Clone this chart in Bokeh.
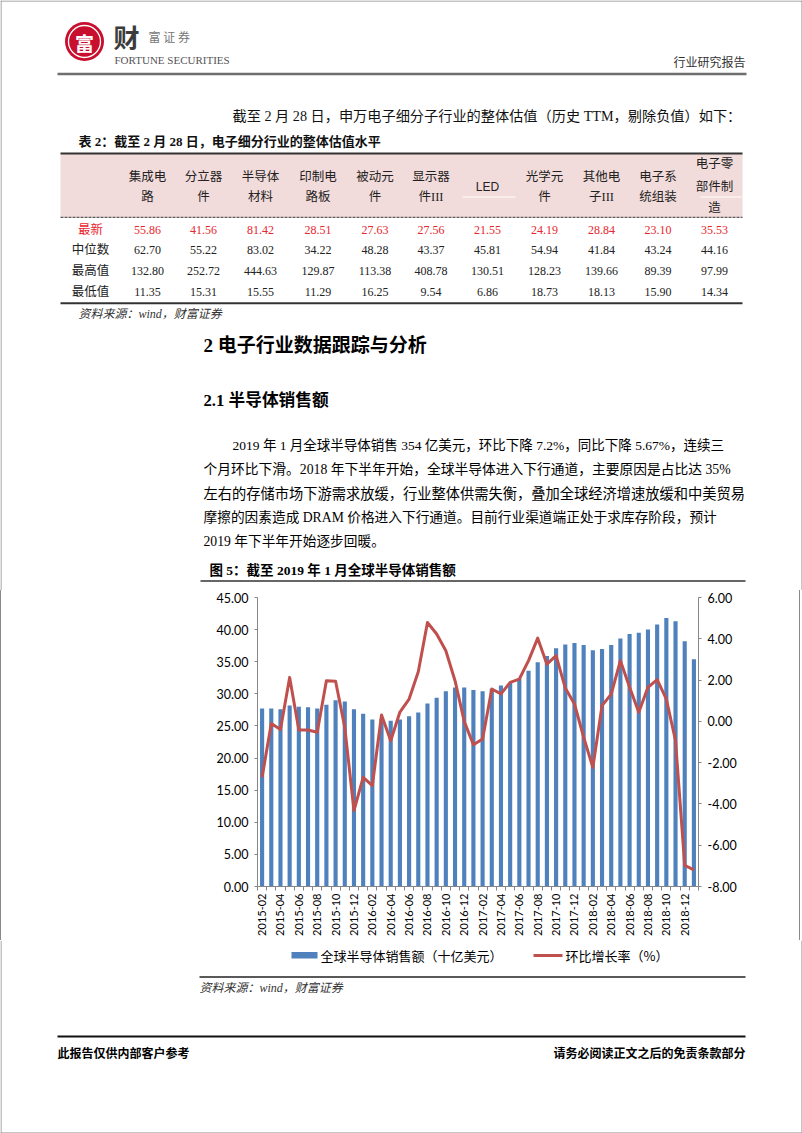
import math
from bokeh.plotting import figure
from bokeh.models import (Range1d, LinearAxis, FixedTicker, NumeralTickFormatter,
                          CustomJSTickFormatter)
from bokeh.core.properties import value
from bokeh.embed import file_html
from bokeh.resources import INLINE

# ---------------- data ----------------
months = ["2015-02", "2015-03", "2015-04", "2015-05", "2015-06", "2015-07", "2015-08", "2015-09",
          "2015-10", "2015-11", "2015-12", "2016-01", "2016-02", "2016-03", "2016-04", "2016-05",
          "2016-06", "2016-07", "2016-08", "2016-09", "2016-10", "2016-11", "2016-12", "2017-01",
          "2017-02", "2017-03", "2017-04", "2017-05", "2017-06", "2017-07", "2017-08", "2017-09",
          "2017-10", "2017-11", "2017-12", "2018-01", "2018-02", "2018-03", "2018-04", "2018-05",
          "2018-06", "2018-07", "2018-08", "2018-09", "2018-10", "2018-11", "2018-12", "2019-01"]
sales = [27.7, 27.7, 27.6, 28.2, 28.0, 27.9, 27.7, 28.3, 29.0, 28.8, 27.6, 26.9,
         26.0, 26.1, 25.8, 26.0, 26.5, 27.1, 28.5, 29.4, 30.4, 31.0, 31.0, 30.6,
         30.4, 30.8, 31.3, 31.7, 32.4, 33.6, 34.9, 35.9, 37.1, 37.7, 37.9, 37.6,
         36.8, 37.0, 37.6, 38.6, 39.3, 39.5, 40.0, 40.8, 41.8, 41.3, 38.2, 35.4]
mom = [-2.71, -0.10, -0.40, 2.13, -0.42, -0.42, -0.53, 1.97, 1.94, -0.29, -4.32, -2.71,
       -3.11, 0.31, -0.94, 0.45, 1.08, 2.40, 4.79, 4.23, 3.42, 1.97, 0.00, -1.13,
       -0.85, 1.57, 1.33, 1.89, 2.05, 2.94, 4.03, 2.77, 3.18, 1.61, 0.84, -0.77,
       -2.23, 0.76, 1.32, 2.94, 1.65, 0.44, 1.65, 2.02, 1.08, -0.94, -6.98, -7.19]
tick_labels = months[::2]
series_names = ["全球半导体销售额（十亿美元）", "环比增长率（%）"]

table_headers = [["集成电", "路"], ["分立器", "件"], ["半导体", "材料"], ["印制电", "路板"],
                 ["被动元", "件"], ["显示器", "件III"], ["LED"], ["光学元", "件"],
                 ["其他电", "子III"], ["电子系", "统组装"], ["电子零", "部件制", "造"]]
row_names = ["最新", "中位数", "最高值", "最低值"]
latest = [55.86, 41.56, 81.42, 28.51, 27.63, 27.56, 21.55, 24.19, 28.84, 23.10, 35.53]
median = [62.70, 55.22, 83.02, 34.22, 48.28, 43.37, 45.81, 54.94, 41.84, 43.24, 44.16]
highest = [132.80, 252.72, 444.63, 129.87, 113.38, 408.78, 130.51, 128.23, 139.66, 89.39, 97.99]
lowest = [11.35, 15.31, 15.55, 11.29, 16.25, 9.54, 6.86, 18.73, 18.13, 15.90, 14.34]

body_lines = [
    "2019 年 1 月全球半导体销售 354 亿美元，环比下降 7.2%，同比下降 5.67%，连续三",
    "个月环比下滑。2018 年下半年开始，全球半导体进入下行通道，主要原因是占比达 35%",
    "左右的存储市场下游需求放缓，行业整体供需失衡，叠加全球经济增速放缓和中美贸易",
    "摩擦的因素造成 DRAM 价格进入下行通道。目前行业渠道端正处于求库存阶段，预计",
    "2019 年下半年开始逐步回暖。",
]

# ---------------- styles ----------------
CJK = "Noto Sans CJK SC"
SERIF = "Liberation Serif, Noto Sans CJK SC"
W = 802
RED = "#e8262e"
BLUE = "#4f81bd"
LINE_RED = "#c0504d"
BORDER = "#8a8a8a"


def txt(p, x, y, s, size, font=SERIF, color="#111111", align="left", style="normal"):
    p.text(x=[x], y=[y], text=[s], text_font=value(font), text_font_size=value(f"{size}px"),
           text_color=color, text_align=align, text_baseline="middle", text_font_style=style)


def hline(p, x0, x1, y, w, color, dash="solid"):
    p.line(x=[x0, x1], y=[y, y], line_width=w, line_color=color, line_dash=dash)


def page_fig(y0, y1):
    f = figure(width=W, height=y1 - y0, x_range=Range1d(0, W), y_range=Range1d(y1, y0),
               x_axis_type=None, y_axis_type=None, toolbar_location=None, output_backend="svg",
               min_border=0, outline_line_color=None, title=None)
    f.line(x=[0.5, 0.5], y=[y0, y1], line_color=BORDER, line_width=1)
    f.line(x=[W - 0.5, W - 0.5], y=[y0, y1], line_color=BORDER, line_width=1)
    return f


# ---------------- figure A: header, table, text ----------------
pa = page_fig(0, 590)
hline(pa, 0, W, 0.5, 1, BORDER)

# logo
pa.scatter(x=[84], y=[41], size=39, marker="circle", fill_color="#c8102e", line_color=None)
pa.scatter(x=[84], y=[41], size=32, marker="circle", fill_color=None, line_color="white", line_width=1.3)
txt(pa, 84, 42, "富", 19, font=CJK, color="white", align="center", style="bold")
txt(pa, 113, 36, "财", 26, font=CJK, color="#3c3c3c", style="bold")
txt(pa, 148, 36, "富 证 券", 12, font=CJK, color="#777777")
txt(pa, 114, 59, "FORTUNE SECURITIES", 11, font="Liberation Serif", color="#555555")
txt(pa, 745, 61, "行业研究报告", 12, font=CJK, color="#333333", align="right")
hline(pa, 57, 746, 73.5, 2.5, "#6e6e6e")

txt(pa, 232, 115, "截至 2 月 28 日，申万电子细分子行业的整体估值（历史 TTM，剔除负值）如下：", 14.2)

# table
txt(pa, 78, 141, "表 2：截至 2 月 28 日，电子细分行业的整体估值水平", 13, style="bold")
pa.quad(left=[60], right=[742], top=[153], bottom=[216.5], fill_color="#f2dcdb", line_color=None)
hline(pa, 462, 515, 196.5, 1, "white")
hline(pa, 700, 741, 196.5, 1, "white")
hline(pa, 60, 742, 153, 2, "#333333")
hline(pa, 60, 742, 216.8, 1, "#333333", dash="3 1")
hline(pa, 60, 742, 302.7, 2, "#333333")

col_x = [147, 203, 260, 317.5, 374.5, 430.5, 487, 544, 601, 657.5, 714]
line_y = {1: [186], 2: [176.5, 196.5], 3: [163, 186, 207]}
for cx, lines in zip(col_x, table_headers):
    for s, yy in zip(lines, line_y[len(lines)]):
        if s == "LED":
            txt(pa, cx, yy, s, 12, font="Liberation Sans", color="#222222", align="center")
        else:
            txt(pa, cx, yy, s, 12.5, color="#222222", align="center")

row_y = [229, 249.5, 270.5, 291.5]
for name, vals, yy in zip(row_names, [latest, median, highest, lowest], row_y):
    color = RED if name == "最新" else "#222222"
    txt(pa, 90, yy, name, 12.5, color=color, align="center")
    pa.text(x=col_x, y=[yy] * len(col_x), text=[f"{v:.2f}" for v in vals],
            text_font=value("Liberation Serif"), text_font_size=value("12px"), text_color=color,
            text_align="center", text_baseline="middle")

txt(pa, 78, 313, "资料来源：wind，财富证券", 12, color="#333333", style="italic")

# text section
txt(pa, 203, 345, "2 电子行业数据跟踪与分析", 19, color="#000000", style="bold")
txt(pa, 203, 400, "2.1 半导体销售额", 16.7, color="#000000", style="bold")
body_x = [232, 203, 203, 203, 203]
body_y = [445, 469, 493, 517, 541]
body_size = [13.5, 13.75, 14.26, 13.7, 13.7]   # per-line sizes mimic the justified lines
for s, xx, yy, fs in zip(body_lines, body_x, body_y, body_size):
    txt(pa, xx, yy, s, fs, color="#000000")

txt(pa, 209, 570, "图 5：截至 2019 年 1 月全球半导体销售额", 13.5, color="#000000", style="bold")
hline(pa, 200, 745, 580.5, 2, "#666666")

# ---------------- figure B: chart ----------------
k = list(range(len(months)))
pb = figure(width=W - 2, height=350, x_range=Range1d(-0.5, len(months) - 0.5), y_range=Range1d(0, 45),
            x_axis_type=None, y_axis_type=None, toolbar_location=None, output_backend="svg",
            min_border_left=256, min_border_right=103, min_border_top=7, min_border_bottom=54,
            outline_line_color=None, title=None)
pb.styles = {"border-left": f"1px solid {BORDER}", "border-right": f"1px solid {BORDER}"}
pb.extra_y_ranges = {"mom": Range1d(-8, 6)}

bars = pb.vbar(x=k, top=sales, width=0.45, fill_color=BLUE, line_color=None)
ln = pb.line(x=k, y=mom, y_range_name="mom", line_color=LINE_RED, line_width=3, line_join="round")

AX = "#868686"
xaxis = LinearAxis(
    ticker=FixedTicker(ticks=list(range(0, len(months), 2)),
                       minor_ticks=[i - 0.5 for i in range(len(months) + 1)]),
    formatter=CustomJSTickFormatter(args=dict(labels=months),
                                    code="return labels[Math.round(tick)] || '';"),
    major_label_orientation=math.pi / 2,
    axis_line_color=AX, major_tick_line_color=None, major_tick_out=4, major_tick_in=0,
    minor_tick_line_color=AX, minor_tick_out=4, minor_tick_in=0,
    major_label_standoff=3, major_label_text_font="Lato", major_label_text_font_size="11px",
    major_label_text_color="#000000")
pb.add_layout(xaxis, "below")

yleft = LinearAxis(
    ticker=FixedTicker(ticks=list(range(0, 46, 5))), formatter=NumeralTickFormatter(format="0.00"),
    axis_line_color=AX, major_tick_line_color=AX, major_tick_out=3, major_tick_in=0,
    minor_tick_line_color=None, major_label_standoff=6, major_label_text_font="Lato",
    major_label_text_font_size="12.5px", major_label_text_color="#000000")
pb.add_layout(yleft, "left")

yright = LinearAxis(
    y_range_name="mom",
    ticker=FixedTicker(ticks=list(range(-8, 7, 2))), formatter=NumeralTickFormatter(format="0.00"),
    axis_line_color=AX, major_tick_line_color=AX, major_tick_out=3, major_tick_in=0,
    minor_tick_line_color=None, major_label_standoff=6, major_label_text_font="Lato",
    major_label_text_font_size="12.5px", major_label_text_color="#000000")
pb.add_layout(yright, "right")

# ---------------- figure C: legend, source + footer ----------------
pc = page_fig(940, 1133)
hline(pc, 0, W, 1132.5, 1, BORDER)
# legend
pc.quad(left=[291], right=[317], top=[951.5], bottom=[958], fill_color=BLUE, line_color=None)
txt(pc, 320, 955, series_names[0], 13, font=CJK, color="#000000")
hline(pc, 533, 562, 955, 3, LINE_RED)
txt(pc, 565, 955, series_names[1], 13, font=CJK, color="#000000")

hline(pc, 199, 745, 976.5, 1.5, "#222222")
txt(pc, 199, 987, "资料来源：wind，财富证券", 12, color="#333333", style="italic")
hline(pc, 57, 745, 1036, 2.2, "#111111")
txt(pc, 57, 1052, "此报告仅供内部客户参考", 12, font=CJK, color="#000000", style="bold")
txt(pc, 745, 1052, "请务必阅读正文之后的免责条款部分", 12, font=CJK, color="#000000",
    align="right", style="bold")

open("out.html", "w").write(file_html([pa, pb, pc], INLINE))
